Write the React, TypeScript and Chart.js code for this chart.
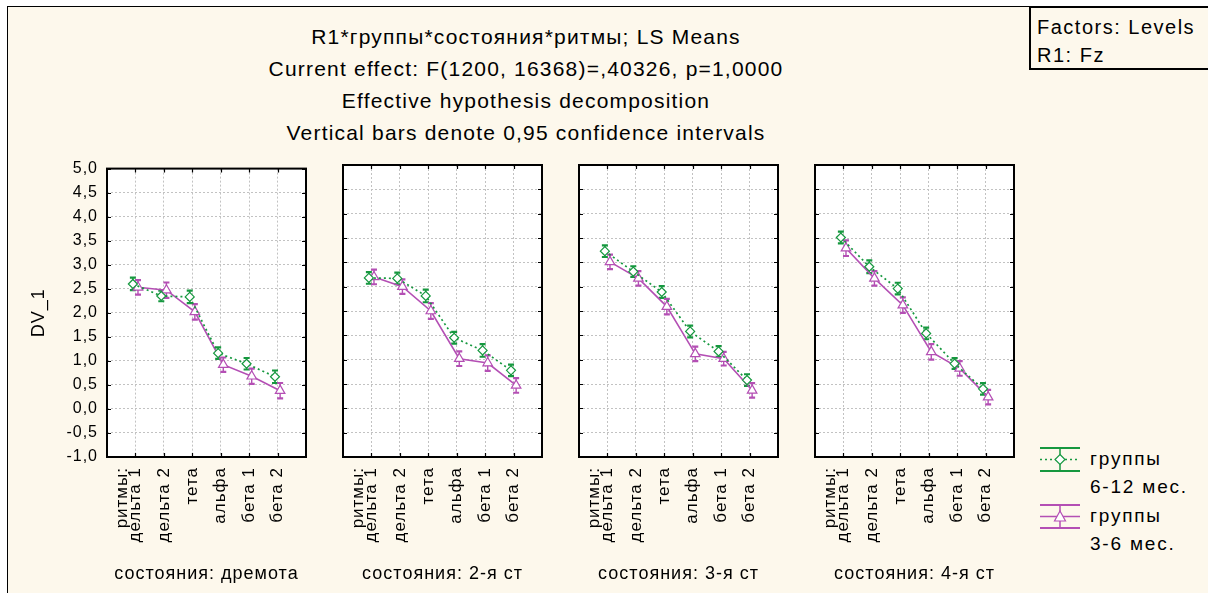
import React, { useEffect, useRef } from 'react';
import { Chart, registerables } from 'chart.js';

Chart.register(...registerables);

const FONT = "'Liberation Sans', Arial, sans-serif";
const CREAM = '#fdf8ec';
const GREEN = '#16983f';
const PURPLE = '#b44fb4';
const GRID = '#c2c2c2';

const TITLE_LINES = [
  'R1*группы*состояния*ритмы; LS Means',
  'Current effect: F(1200, 16368)=,40326, p=1,0000',
  'Effective hypothesis decomposition',
  'Vertical bars denote 0,95 confidence intervals',
];
const FACTOR_LINES = ['Factors: Levels', 'R1: Fz'];
const Y_TITLE = 'DV_1';
const X_FACTOR = 'ритмы:';
const STATE_FACTOR = 'состояния: ';
const RHYTHMS = ['дельта 1', 'дельта 2', 'тета', 'альфа', 'бета 1', 'бета 2'];
const STATES = ['дремота', '2-я ст', '3-я ст', '4-я ст'];
const GROUP_612 = ['группы', '6-12 мес.'];
const GROUP_36 = ['группы', '3-6 мес.'];
const Y_MIN = -1;
const Y_MAX = 5;
const Y_STEP = 0.5;

// LS means, group 6-12 months (one array per state)
const DREMOTA_612 = [2.6, 2.35, 2.33, 1.16, 0.94, 0.67];
const ST2_612 = [2.68, 2.67, 2.31, 1.45, 1.19, 0.78];
const ST3_612 = [3.23, 2.81, 2.39, 1.58, 1.17, 0.58];
const ST4_612 = [3.51, 2.91, 2.46, 1.54, 0.92, 0.4];
// LS means, group 3-6 months
const DREMOTA_36 = [2.53, 2.47, 2.02, 0.92, 0.68, 0.38];
const ST2_36 = [2.7, 2.5, 2.0, 1.02, 0.93, 0.47];
const ST3_36 = [3.01, 2.67, 2.09, 1.12, 1.02, 0.37];
const ST4_36 = [3.29, 2.67, 2.12, 1.16, 0.82, 0.23];
// 0.95 confidence half-widths
const DREMOTA_612_CI = [0.13, 0.11, 0.13, 0.12, 0.12, 0.13];
const ST2_612_CI = [0.12, 0.12, 0.13, 0.12, 0.13, 0.12];
const ST3_612_CI = [0.12, 0.11, 0.12, 0.12, 0.11, 0.12];
const ST4_612_CI = [0.12, 0.13, 0.12, 0.12, 0.11, 0.12];
const DREMOTA_36_CI = [0.15, 0.16, 0.16, 0.15, 0.16, 0.16];
const ST2_36_CI = [0.15, 0.15, 0.16, 0.15, 0.16, 0.15];
const ST3_36_CI = [0.15, 0.15, 0.16, 0.15, 0.14, 0.15];
const ST4_36_CI = [0.16, 0.15, 0.16, 0.16, 0.15, 0.15];

const MEANS_612 = [DREMOTA_612, ST2_612, ST3_612, ST4_612];
const MEANS_36 = [DREMOTA_36, ST2_36, ST3_36, ST4_36];
const CI_612 = [DREMOTA_612_CI, ST2_612_CI, ST3_612_CI, ST4_612_CI];
const CI_36 = [DREMOTA_36_CI, ST2_36_CI, ST3_36_CI, ST4_36_CI];

const SHIFT = 0.09;
const X_TICK_SIZE = 17;
const CANVAS_W = 318;
const CANVAS_H = 443;
const Y_AXIS_W = 107;
const PANEL_STEP = 236;

const fmt = (v: number) => v.toFixed(1).replace('.', ',');

const panelPlugin = {
  id: 'panelDecor',
  beforeDraw(chart: any) {
    const { ctx, chartArea: a } = chart;
    ctx.save();
    ctx.fillStyle = '#ffffff';
    ctx.fillRect(a.left, a.top, a.right - a.left, a.bottom - a.top);
    ctx.restore();
    (ctx as any).letterSpacing = '1px';
  },
  beforeDatasetsDraw(chart: any) {
    const { ctx } = chart;
    const yScale = chart.scales.y;
    chart.data.datasets.forEach((ds: any, di: number) => {
      const meta = chart.getDatasetMeta(di);
      ctx.save();
      ctx.strokeStyle = ds.borderColor;
      ds.data.forEach((p: any, i: number) => {
        const el = meta.data[i];
        if (!el) return;
        const x = el.x;
        const y1 = yScale.getPixelForValue(p.y + ds.err[i]);
        const y2 = yScale.getPixelForValue(p.y - ds.err[i]);
        ctx.lineWidth = 1.4;
        ctx.beginPath();
        ctx.moveTo(x, y1);
        ctx.lineTo(x, y2);
        ctx.stroke();
        ctx.lineWidth = 2.2;
        ctx.beginPath();
        ctx.moveTo(x - 3, y1);
        ctx.lineTo(x + 3, y1);
        ctx.moveTo(x - 3, y2);
        ctx.lineTo(x + 3, y2);
        ctx.stroke();
      });
      ctx.restore();
    });
  },
  afterDraw(chart: any) {
    const { ctx, chartArea: a } = chart;
    const xs = chart.scales.x;
    const ys = chart.scales.y;
    ctx.save();
    ctx.strokeStyle = '#000';
    ctx.lineWidth = 1.2;
    ctx.beginPath();
    ys.ticks.forEach((t: any) => {
      const y = Math.round(ys.getPixelForValue(t.value)) + 0.5;
      ctx.moveTo(a.left, y);
      ctx.lineTo(a.left + 4, y);
      ctx.moveTo(a.right - 4, y);
      ctx.lineTo(a.right, y);
    });
    xs.ticks.forEach((t: any) => {
      const x = Math.round(xs.getPixelForValue(t.value)) + 0.5;
      ctx.moveTo(x, a.top);
      ctx.lineTo(x, a.top + 4);
      ctx.moveTo(x, a.bottom - 4);
      ctx.lineTo(x, a.bottom);
    });
    ctx.stroke();
    ctx.lineWidth = 2;
    ctx.strokeRect(a.left, a.top, a.right - a.left, a.bottom - a.top);
    // factor name next to first category label
    const x0 = xs.getPixelForValue(1) - 13;
    ctx.translate(x0, a.bottom + 10);
    ctx.rotate(-Math.PI / 2);
    ctx.font = `${X_TICK_SIZE}px ${FONT}`;
    ctx.fillStyle = '#000';
    ctx.textAlign = 'right';
    ctx.textBaseline = 'middle';
    ctx.fillText(X_FACTOR, 0, 0);
    ctx.restore();
  },
};

function Panel({ index }: { index: number }) {
  const ref = useRef<HTMLCanvasElement>(null);
  useEffect(() => {
    const first = index === 0;
    const chart = new Chart(ref.current as HTMLCanvasElement, {
      type: 'line',
      data: {
        datasets: [
          {
            label: GROUP_612.join(' '),
            data: MEANS_612[index].map((v, i) => ({ x: i + 1 - SHIFT, y: v })),
            err: CI_612[index],
            borderColor: GREEN,
            borderWidth: 1.7,
            borderDash: [2, 3],
            pointStyle: 'rectRot',
            pointRadius: 4.5,
            pointBorderWidth: 1.2,
            pointBorderColor: GREEN,
            pointBackgroundColor: '#ffffff',
            tension: 0,
          } as any,
          {
            label: GROUP_36.join(' '),
            data: MEANS_36[index].map((v, i) => ({ x: i + 1 + SHIFT, y: v })),
            err: CI_36[index],
            borderColor: PURPLE,
            borderWidth: 1.6,
            pointStyle: 'triangle',
            pointRadius: 5.5,
            pointBorderWidth: 1.2,
            pointBorderColor: PURPLE,
            pointBackgroundColor: '#ffffff',
            tension: 0,
          } as any,
        ],
      },
      options: {
        animation: false,
        responsive: false,
        devicePixelRatio: 1,
        layout: { padding: { top: 15, bottom: 6, left: 0, right: 12 } },
        plugins: { legend: { display: false }, tooltip: { enabled: false } },
        scales: {
          x: {
            type: 'linear',
            min: 0,
            max: RHYTHMS.length + 1,
            afterBuildTicks: (s: any) => {
              s.ticks = RHYTHMS.map((_, i) => ({ value: i + 1 }));
            },
            afterFit: (s: any) => {
              s.height = 130;
            },
            ticks: {
              autoSkip: false,
              minRotation: 90,
              maxRotation: 90,
              padding: 10,
              color: '#000',
              font: { family: FONT, size: X_TICK_SIZE },
              callback: (v: any) => RHYTHMS[Math.round(v) - 1] ?? '',
            },
            grid: { color: GRID, lineWidth: 1, drawTicks: false },
            border: { display: false, dash: [2, 2] },
            title: {
              display: true,
              text: STATE_FACTOR + STATES[index],
              color: '#000',
              font: { family: FONT, size: 18 },
              padding: { top: 0, bottom: 2 },
            },
          },
          y: {
            type: 'linear',
            min: Y_MIN,
            max: Y_MAX,
            afterFit: (s: any) => {
              s.width = Y_AXIS_W;
            },
            ticks: {
              stepSize: Y_STEP,
              display: first,
              padding: 9,
              color: '#000',
              font: { family: FONT, size: 16 },
              callback: (v: any) => fmt(Number(v)),
            },
            grid: { color: GRID, lineWidth: 1, drawTicks: false },
            border: { display: false, dash: [2, 2] },
            title: {
              display: first,
              text: Y_TITLE,
              color: '#000',
              font: { family: FONT, size: 18 },
              padding: { top: 28, bottom: 0 },
            },
          },
        },
      },
      plugins: [panelPlugin],
    } as any);
    return () => chart.destroy();
  }, [index]);
  return (
    <canvas
      ref={ref}
      width={CANVAS_W}
      height={CANVAS_H}
      style={{ position: 'absolute', left: index * PANEL_STEP, top: 150, width: CANVAS_W, height: CANVAS_H }}
    />
  );
}

function LegendItem({ top, color, lines, dashed, marker }: any) {
  return (
    <div style={{ position: 'absolute', left: 1040, top }}>
      <svg width={44} height={26} style={{ position: 'absolute', left: 0, top: 0 }}>
        <line x1={0} y1={1} x2={40} y2={1} stroke={color} strokeWidth={2} />
        <line x1={0} y1={24} x2={40} y2={24} stroke={color} strokeWidth={2} />
        <line x1={20} y1={1} x2={20} y2={24} stroke={color} strokeWidth={1.5} />
        <line x1={0} y1={12.5} x2={40} y2={12.5} stroke={color} strokeWidth={1.5} strokeDasharray={dashed ? '2 3' : undefined} />
        {marker === 'diamond' ? (
          <polygon points="20,7.5 25,12.5 20,17.5 15,12.5" fill="#fff" stroke={color} strokeWidth={1.2} />
        ) : (
          <polygon points="20,7 25.5,17 14.5,17" fill="#fff" stroke={color} strokeWidth={1.2} />
        )}
      </svg>
      <div
        style={{
          position: 'absolute',
          left: 50,
          top: -2,
          fontSize: 19,
          lineHeight: '28px',
          letterSpacing: '1.8px',
          whiteSpace: 'nowrap',
          color: '#000',
        }}
      >
        {lines.map((l: string, i: number) => (
          <div key={i}>{l}</div>
        ))}
      </div>
    </div>
  );
}

export default function App() {
  return (
    <div
      style={{
        position: 'absolute',
        left: 0,
        top: 0,
        width: 1208,
        height: 593,
        background: '#ffffff',
        overflow: 'hidden',
        fontFamily: FONT,
      }}
    >
      <div
        style={{
          position: 'absolute',
          left: 7,
          top: 6,
          width: 1230,
          height: 620,
          borderLeft: '1px solid #000',
          borderTop: '1px solid #000',
          background: CREAM,
        }}
      />
      {TITLE_LINES.map((t, i) => (
        <div
          key={i}
          style={{
            position: 'absolute',
            left: 0,
            width: 1052,
            top: 24 + i * 32,
            textAlign: 'center',
            fontSize: 21,
            lineHeight: '26px',
            letterSpacing: '1.2px',
            color: '#000',
            whiteSpace: 'nowrap',
          }}
        >
          {t}
        </div>
      ))}
      <div
        style={{
          position: 'absolute',
          left: 1029,
          top: 6,
          width: 172,
          height: 60,
          border: '2px solid #000',
          padding: '0 0 0 6px',
          boxSizing: 'content-box',
          fontSize: 20,
          lineHeight: '28px',
          letterSpacing: '1.5px',
          color: '#000',
          whiteSpace: 'nowrap',
        }}
      >
        <div style={{ paddingTop: 5 }}>
          {FACTOR_LINES.map((l, i) => (
            <div key={i}>{l}</div>
          ))}
        </div>
      </div>
      {STATES.map((_, i) => (
        <Panel key={i} index={i} />
      ))}
      <LegendItem top={447} color={GREEN} lines={GROUP_612} dashed marker="diamond" />
      <LegendItem top={504} color={PURPLE} lines={GROUP_36} dashed={false} marker="triangle" />
    </div>
  );
}
